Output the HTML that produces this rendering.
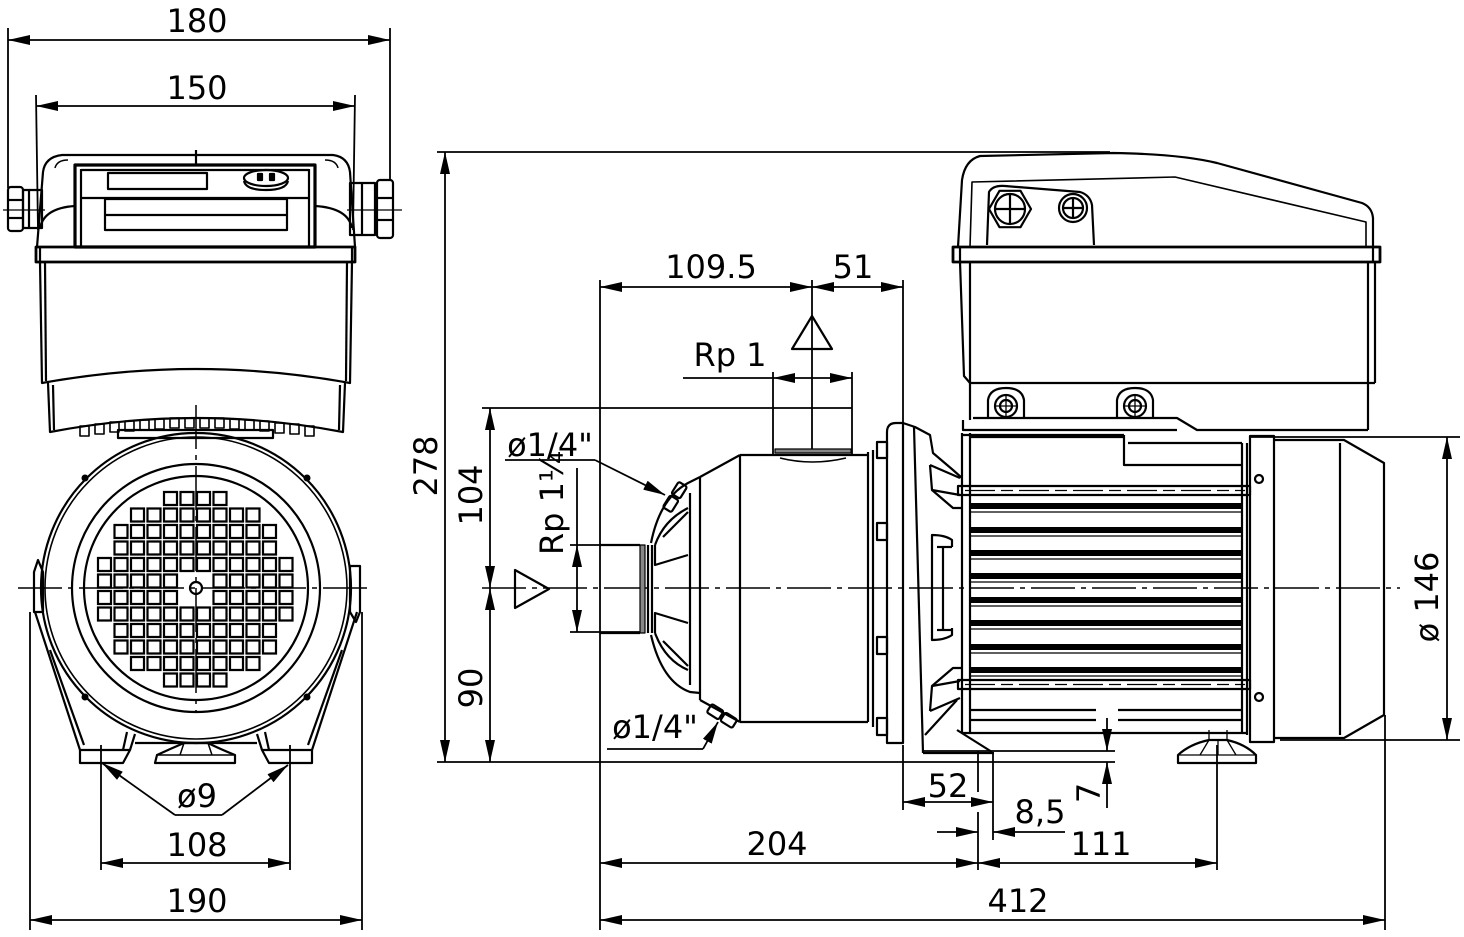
<!DOCTYPE html>
<html><head><meta charset="utf-8"><style>html,body{margin:0;padding:0;background:#fff}svg{display:block}</style></head><body>
<svg width="1464" height="937" viewBox="0 0 1464 937" xmlns="http://www.w3.org/2000/svg">
<defs>
<marker id="a" viewBox="0 0 22 10" refX="22" refY="5" markerWidth="22" markerHeight="10" orient="auto-start-reverse" markerUnits="userSpaceOnUse"><path d="M0,0L22,5L0,10z" fill="#000"/></marker>
</defs>
<rect width="1464" height="937" fill="#fff"/>

<!-- ================= DIMENSIONS ================= -->
<g fill="none" stroke="#000" stroke-width="1.8">
  <!-- 180 / 150 -->
  <line x1="8" y1="40" x2="390" y2="40" marker-start="url(#a)" marker-end="url(#a)"/>
  <line x1="8" y1="28" x2="8" y2="188"/>
  <line x1="390" y1="28" x2="390" y2="180"/>
  <line x1="36" y1="106" x2="355" y2="106" marker-start="url(#a)" marker-end="url(#a)"/>
  <line x1="36" y1="95" x2="38" y2="230"/>
  <line x1="355" y1="95" x2="353" y2="230"/>
  <!-- 108 / 190 / o9 -->
  <line x1="101" y1="745" x2="101" y2="870"/>
  <line x1="290" y1="745" x2="290" y2="870"/>
  <line x1="101" y1="863" x2="290" y2="863" marker-start="url(#a)" marker-end="url(#a)"/>
  <line x1="30" y1="612" x2="30" y2="930"/>
  <line x1="362" y1="612" x2="362" y2="930"/>
  <line x1="30" y1="920" x2="362" y2="920" marker-start="url(#a)" marker-end="url(#a)"/>
  <polyline points="175,815 102,763" marker-end="url(#a)"/>
  <line x1="175" y1="815" x2="222" y2="815"/>
  <polyline points="222,815 288,765" marker-end="url(#a)"/>

  <!-- 278 / 104 / 90 -->
  <line x1="437" y1="152" x2="1110" y2="152"/>
  <line x1="437" y1="762" x2="1115" y2="762"/>
  <line x1="445" y1="152" x2="445" y2="762" marker-start="url(#a)" marker-end="url(#a)"/>
  <line x1="482" y1="408" x2="852" y2="408"/>
  <line x1="490" y1="408" x2="490" y2="588" marker-start="url(#a)" marker-end="url(#a)"/>
  <line x1="490" y1="588" x2="490" y2="762" marker-start="url(#a)" marker-end="url(#a)"/>
  <!-- Rp 1 1/4 -->
  <line x1="570" y1="545" x2="640" y2="545"/>
  <line x1="570" y1="632" x2="640" y2="632"/>
  <line x1="577" y1="468" x2="577" y2="545"/>
  <line x1="577" y1="545" x2="577" y2="632" marker-start="url(#a)" marker-end="url(#a)"/>
  <!-- o1/4 leaders -->
  <line x1="505" y1="460" x2="595" y2="460"/>
  <polyline points="595,460 665,495" marker-end="url(#a)"/>
  <line x1="607" y1="749" x2="703" y2="749"/>
  <polyline points="703,749 718,722" marker-end="url(#a)"/>
  <!-- 109.5 / 51 -->
  <line x1="600" y1="280" x2="600" y2="930"/>
  <line x1="812" y1="280" x2="812" y2="450"/>
  <line x1="903" y1="280" x2="903" y2="423"/>
  <line x1="600" y1="287" x2="812" y2="287" marker-start="url(#a)" marker-end="url(#a)"/>
  <line x1="812" y1="287" x2="903" y2="287" marker-start="url(#a)" marker-end="url(#a)"/>
  <!-- Rp 1 -->
  <line x1="683" y1="378" x2="773" y2="378"/>
  <line x1="773" y1="378" x2="852" y2="378" marker-start="url(#a)" marker-end="url(#a)"/>
  <line x1="773" y1="372" x2="773" y2="455"/>
  <line x1="852" y1="372" x2="852" y2="455"/>
  <!-- o146 -->
  <line x1="1250" y1="437" x2="1460" y2="437"/>
  <line x1="1280" y1="740" x2="1460" y2="740"/>
  <line x1="1447" y1="437" x2="1447" y2="740" marker-start="url(#a)" marker-end="url(#a)"/>
  <!-- bottom dims -->
  <line x1="903" y1="745" x2="903" y2="810"/>
  <line x1="993" y1="752" x2="993" y2="840"/>
  <line x1="978" y1="751" x2="978" y2="792"/>
  <line x1="978" y1="812" x2="978" y2="870"/>
  <line x1="903" y1="802" x2="993" y2="802" marker-start="url(#a)" marker-end="url(#a)"/>
  <polyline points="937,832 978,832" marker-end="url(#a)"/>
  <polyline points="1065,832 993,832" marker-end="url(#a)"/>
  <line x1="600" y1="863" x2="978" y2="863" marker-start="url(#a)" marker-end="url(#a)"/>
  <line x1="978" y1="863" x2="1217" y2="863" marker-start="url(#a)" marker-end="url(#a)"/>
  <line x1="1217" y1="745" x2="1217" y2="870"/>
  <line x1="1385" y1="715" x2="1385" y2="930"/>
  <line x1="600" y1="920" x2="1385" y2="920" marker-start="url(#a)" marker-end="url(#a)"/>
  <!-- 7 -->
  <line x1="923" y1="751" x2="1115" y2="751"/>
  <polyline points="1107,718 1107,751" marker-end="url(#a)"/>
  <polyline points="1107,808 1107,762" marker-end="url(#a)"/>
</g>

<!-- centerlines -->
<g fill="none" stroke="#000" stroke-width="1.5" stroke-dasharray="44 6 5 6">
  <line x1="18" y1="588" x2="372" y2="588"/>
  <line x1="196" y1="405" x2="196" y2="712"/>
  <line x1="482" y1="588" x2="1400" y2="588"/>
</g>
<g fill="none" stroke="#000" stroke-width="1.3">
  <line x1="3" y1="210" x2="45" y2="210"/>
  <line x1="347" y1="210" x2="402" y2="210"/>
</g>

<!-- ================= FRONT VIEW (LEFT) ================= -->
<g fill="none" stroke="#000" stroke-width="2.2" stroke-linejoin="round">
  <!-- control box -->
  <path d="M37,247 L43,172 Q45,157 62,155 L333,155 Q348,157 350,172 L355,247"/>
  <line x1="196" y1="150" x2="196" y2="165"/>
  <path d="M55,168 Q57,160 68,160 M338,168 Q336,160 325,160" stroke-width="1.5"/>
  <rect x="75" y="165" width="240" height="82" stroke-width="3.2"/>
  <line x1="81" y1="169" x2="81" y2="247"/>
  <line x1="309" y1="169" x2="309" y2="247"/>
  <line x1="81" y1="170" x2="309" y2="170"/>
  <line x1="81" y1="198" x2="309" y2="198"/>
  <rect x="108" y="173" width="99" height="16"/>
  <ellipse cx="266" cy="178" rx="22" ry="8"/>
  <path d="M244,181 Q246,190 266,190 Q286,190 288,181"/>
  <rect x="258" y="174" width="4" height="6" fill="#000"/>
  <rect x="270" y="174" width="4" height="6" fill="#000"/>
  <rect x="105" y="199" width="182" height="31"/>
  <line x1="105" y1="215" x2="287" y2="215"/>
  <path d="M40,228 Q44,208 75,206"/>
  <path d="M352,228 Q348,208 315,206"/>
  <rect x="36" y="247" width="319" height="15" stroke-width="2.8"/>
  <line x1="40" y1="247" x2="40" y2="262"/>
  <line x1="352" y1="247" x2="352" y2="262"/>
  <path d="M40,262 L42,383 Q196,355 350,383 L352,262"/>
  <line x1="45" y1="262" x2="46" y2="381"/>
  <line x1="347" y1="262" x2="346" y2="381"/>
  <path d="M48,383 L50,432 Q196,404 343,432 L345,383"/>
  <line x1="53" y1="385" x2="54" y2="430"/>
  <line x1="340" y1="385" x2="339" y2="430"/>
  <!-- glands -->
  <rect x="23" y="190" width="19" height="38"/>
  <line x1="29" y1="190" x2="29" y2="228"/>
  <rect x="8" y="187" width="15" height="44" rx="3"/>
  <line x1="8" y1="200" x2="23" y2="200"/>
  <line x1="8" y1="218" x2="23" y2="218"/>
  <rect x="350" y="183" width="25" height="52"/>
  <line x1="362" y1="183" x2="362" y2="235"/>
  <rect x="377" y="180" width="16" height="58" rx="3"/>
  <line x1="377" y1="198" x2="393" y2="198"/>
  <line x1="377" y1="220" x2="393" y2="220"/>
  <!-- ribs -->
  <g stroke-width="1.6">
    <rect x="80" y="426" width="9" height="10"/><rect x="95" y="424" width="9" height="10"/>
    <rect x="110" y="422" width="9" height="10"/><rect x="125" y="421" width="9" height="10"/>
    <rect x="140" y="420" width="9" height="10"/><rect x="155" y="419" width="9" height="10"/>
    <rect x="170" y="418" width="9" height="10"/><rect x="185" y="418" width="9" height="10"/>
    <rect x="200" y="418" width="9" height="10"/><rect x="215" y="418" width="9" height="10"/>
    <rect x="230" y="419" width="9" height="10"/><rect x="245" y="420" width="9" height="10"/>
    <rect x="260" y="421" width="9" height="10"/><rect x="275" y="423" width="9" height="10"/>
    <rect x="290" y="424" width="9" height="10"/><rect x="305" y="426" width="9" height="10"/>
  </g>
  <rect x="118" y="430" width="155" height="8"/>

  <!-- motor front -->
  <circle cx="196" cy="588" r="155"/>
  <circle cx="196" cy="588" r="151" stroke-width="1.6"/>
  <circle cx="196" cy="588" r="124"/>
  <circle cx="196" cy="588" r="112"/>
  <circle cx="196" cy="588" r="6"/>
  <path d="M34,612 L34,572 L38,560 L43,572 L43,612 Z"/>
  <path d="M350,566 L360,566 L360,612 L356,622 L350,612 Z"/>
  <!-- legs -->
  <line x1="35" y1="612" x2="80" y2="750"/>
  <line x1="50" y1="650" x2="84" y2="745"/>
  <line x1="357" y1="612" x2="312" y2="750"/>
  <line x1="342" y1="650" x2="308" y2="745"/>
  <path d="M80,750 L80,763 L123,763 L130,750 Z"/>
  <path d="M127,732 L123,750 M135,734 L130,750"/>
  <path d="M312,750 L312,763 L269,763 L262,750 Z"/>
  <path d="M265,732 L269,750 M257,734 L262,750"/>
  <line x1="135" y1="743" x2="257" y2="743"/>
  <path d="M155,763 L235,763 L235,755 Q220,749 208,743 L184,743 Q170,749 157,755 Z"/>
  <path d="M157,755 L235,755 M184,743 L180,755 M208,743 L212,755" stroke-width="1.5"/>
</g>
<g fill="#000">
  <circle cx="85" cy="478" r="3.5"/><circle cx="307" cy="478" r="3.5"/>
  <circle cx="85" cy="697" r="3.5"/><circle cx="307" cy="697" r="3.5"/>
</g>
<path fill="none" stroke="#000" stroke-width="2.2" d="
M164 492h13v13h-13zm16.5 0h13v13h-13zm16.5 0h13v13h-13zm16.5 0h13v13h-13z
M131 508.5h13v13h-13zm16.5 0h13v13h-13zm16.5 0h13v13h-13zm16.5 0h13v13h-13zm16.5 0h13v13h-13zm16.5 0h13v13h-13zm16.5 0h13v13h-13zm16.5 0h13v13h-13z
M114.5 525h13v13h-13zm16.5 0h13v13h-13zm16.5 0h13v13h-13zm16.5 0h13v13h-13zm16.5 0h13v13h-13zm16.5 0h13v13h-13zm16.5 0h13v13h-13zm16.5 0h13v13h-13zm16.5 0h13v13h-13zm16.5 0h13v13h-13z
M114.5 541.5h13v13h-13zm16.5 0h13v13h-13zm16.5 0h13v13h-13zm16.5 0h13v13h-13zm16.5 0h13v13h-13zm16.5 0h13v13h-13zm16.5 0h13v13h-13zm16.5 0h13v13h-13zm16.5 0h13v13h-13zm16.5 0h13v13h-13z
M98 558h13v13h-13zm16.5 0h13v13h-13zm16.5 0h13v13h-13zm16.5 0h13v13h-13zm16.5 0h13v13h-13zm16.5 0h13v13h-13zm16.5 0h13v13h-13zm16.5 0h13v13h-13zm16.5 0h13v13h-13zm16.5 0h13v13h-13zm16.5 0h13v13h-13zm16.5 0h13v13h-13z
M98 574.5h13v13h-13zm16.5 0h13v13h-13zm16.5 0h13v13h-13zm16.5 0h13v13h-13zm16.5 0h13v13h-13z
M213.5 574.5h13v13h-13zm16.5 0h13v13h-13zm16.5 0h13v13h-13zm16.5 0h13v13h-13zm16.5 0h13v13h-13z
M98 591h13v13h-13zm16.5 0h13v13h-13zm16.5 0h13v13h-13zm16.5 0h13v13h-13zm16.5 0h13v13h-13z
M213.5 591h13v13h-13zm16.5 0h13v13h-13zm16.5 0h13v13h-13zm16.5 0h13v13h-13zm16.5 0h13v13h-13z
M98 607.5h13v13h-13zm16.5 0h13v13h-13zm16.5 0h13v13h-13zm16.5 0h13v13h-13zm16.5 0h13v13h-13zm16.5 0h13v13h-13zm16.5 0h13v13h-13zm16.5 0h13v13h-13zm16.5 0h13v13h-13zm16.5 0h13v13h-13zm16.5 0h13v13h-13zm16.5 0h13v13h-13z
M114.5 624h13v13h-13zm16.5 0h13v13h-13zm16.5 0h13v13h-13zm16.5 0h13v13h-13zm16.5 0h13v13h-13zm16.5 0h13v13h-13zm16.5 0h13v13h-13zm16.5 0h13v13h-13zm16.5 0h13v13h-13zm16.5 0h13v13h-13z
M114.5 640.5h13v13h-13zm16.5 0h13v13h-13zm16.5 0h13v13h-13zm16.5 0h13v13h-13zm16.5 0h13v13h-13zm16.5 0h13v13h-13zm16.5 0h13v13h-13zm16.5 0h13v13h-13zm16.5 0h13v13h-13zm16.5 0h13v13h-13z
M131 657h13v13h-13zm16.5 0h13v13h-13zm16.5 0h13v13h-13zm16.5 0h13v13h-13zm16.5 0h13v13h-13zm16.5 0h13v13h-13zm16.5 0h13v13h-13zm16.5 0h13v13h-13z
M164 673.5h13v13h-13zm16.5 0h13v13h-13zm16.5 0h13v13h-13zm16.5 0h13v13h-13z"/>

<!-- ================= SIDE VIEW (RIGHT) ================= -->
<g fill="none" stroke="#000" stroke-width="2.2" stroke-linejoin="round">
  <!-- triangles -->
  <polygon points="515,570 515,608 549,589"/>
  <polygon points="792,349 832,349 812,316"/>
  <!-- inlet pipe -->
  <line x1="600" y1="545" x2="640" y2="545"/>
  <line x1="600" y1="633" x2="640" y2="633"/>
  <rect x="640" y="545" width="5" height="88" fill="#888" stroke-width="1.2"/>
  <line x1="648" y1="545" x2="648" y2="633"/>
  <line x1="652" y1="545" x2="652" y2="633"/>
  <!-- bulb -->
  <path d="M651,543 Q660,498 688,483 L700,477"/>
  <path d="M651,635 Q662,682 690,692 L700,693"/>
  <path d="M655,545 Q664,520 688,508"/>
  <path d="M663,537 L688,512 M655,545 L655,565 L688,555"/>
  <path d="M663,641 L688,666 M655,633 L655,613 L688,623"/>
  <path d="M655,633 Q665,660 688,670"/>
  <line x1="690" y1="493" x2="690" y2="685"/>
  <line x1="700" y1="477" x2="700" y2="700"/>
  <line x1="700" y1="477" x2="740" y2="455"/>
  <line x1="700" y1="700" x2="740" y2="722"/>
  <line x1="740" y1="455" x2="740" y2="722"/>
  <line x1="740" y1="455" x2="868" y2="455"/>
  <line x1="740" y1="722" x2="868" y2="722"/>
  <rect x="775" y="449" width="76" height="4" fill="#888" stroke-width="1.2"/>
  <path d="M780,458 Q812,466 846,458" stroke-width="1.5"/>
  <line x1="868" y1="452" x2="868" y2="722"/>
  <line x1="873" y1="450" x2="873" y2="727"/>
  <!-- bolt lumps -->
  <g transform="translate(675,497) rotate(-58)"><rect x="-15" y="-5" width="14" height="10" rx="2"/><rect x="1" y="-5" width="14" height="10" rx="2"/></g>
  <g transform="translate(722,716) rotate(32)"><rect x="-15" y="-5" width="14" height="10" rx="2"/><rect x="1" y="-5" width="14" height="10" rx="2"/></g>
  <!-- flange -->
  <path d="M887,743 L887,432 Q887,423 896,423 L903,423 L903,743 Z"/>
  <rect x="877" y="442" width="10" height="16"/>
  <rect x="877" y="523" width="10" height="17"/>
  <rect x="877" y="637" width="10" height="17"/>
  <rect x="877" y="718" width="10" height="17"/>
  <!-- lantern -->
  <line x1="914" y1="427" x2="923" y2="753"/>
  <polyline points="903,423 915,427 930,435 933,453 953,470 962,478"/>
  <polyline points="930,465 960,478"/>
  <polyline points="930,465 932,490 960,495"/>
  <polyline points="932,490 953,508 962,508"/>
  <polyline points="930,711 960,698"/>
  <polyline points="930,711 932,686 960,681"/>
  <polyline points="932,686 953,668 962,668"/>
  <path d="M952,547 L952,540 Q945,535 932,535 L932,640 Q945,640 952,635 L952,628"/>
  <line x1="943" y1="547" x2="943" y2="630"/>
  <line x1="937" y1="547" x2="952" y2="547"/>
  <line x1="937" y1="630" x2="952" y2="630"/>
  <line x1="957" y1="700" x2="925" y2="735"/>
  <line x1="923" y1="753" x2="994" y2="753"/>
  <line x1="957" y1="730" x2="992" y2="752"/>
  <!-- stator -->
  <line x1="962" y1="433" x2="962" y2="733"/>
  <line x1="970" y1="433" x2="970" y2="733"/>
  <line x1="962" y1="435" x2="1124" y2="435"/>
  <line x1="962" y1="733" x2="1246" y2="733"/>
  <line x1="1242" y1="443" x2="1242" y2="733"/>
  <line x1="1247" y1="443" x2="1247" y2="735"/>
  <path d="M1124,435 L1124,465 L1242,465 M1128,443 L1242,443"/>
  <rect x="958" y="486" width="292" height="9"/>
  <rect x="958" y="680" width="292" height="9"/>
  <line x1="965" y1="490.5" x2="1245" y2="490.5" stroke-width="1.2" stroke-dasharray="30 6 12 6"/>
  <line x1="965" y1="684.5" x2="1245" y2="684.5" stroke-width="1.2" stroke-dasharray="30 6 12 6"/>
  <g stroke="none" fill="#000">
    <rect x="970" y="503" width="272" height="6"/>
    <rect x="970" y="527" width="272" height="6"/>
    <rect x="970" y="550" width="272" height="6"/>
    <rect x="970" y="573" width="272" height="6"/>
    <rect x="970" y="597" width="272" height="6"/>
    <rect x="970" y="620" width="272" height="6"/>
    <rect x="970" y="644" width="272" height="6"/>
    <rect x="970" y="667" width="272" height="6"/>
  </g>
  <g stroke-width="1.3">
    <line x1="970" y1="512" x2="1242" y2="512"/>
    <line x1="970" y1="536" x2="1242" y2="536"/>
    <line x1="970" y1="559" x2="1242" y2="559"/>
    <line x1="970" y1="582" x2="1242" y2="582"/>
    <line x1="970" y1="606" x2="1242" y2="606"/>
    <line x1="970" y1="629" x2="1242" y2="629"/>
    <line x1="970" y1="653" x2="1242" y2="653"/>
    <line x1="970" y1="676" x2="1242" y2="676"/>
  </g>
  <path d="M970,710 L1096,710 M1118,710 L1242,710 M970,720 L1096,720 M1118,720 L1242,720"/>
  <!-- rear foot -->
  <path d="M1178,763 L1256,763 L1256,755 Q1245,744 1227,740 L1209,740 Q1190,744 1178,755 Z"/>
  <path d="M1178,755 L1256,755 M1209,740 L1209,730 M1227,740 L1227,730 M1209,740 L1200,755 M1227,740 L1236,755 M1218,740 L1218,755" stroke-width="1.3"/>
  <!-- fan cowl -->
  <rect x="1250" y="436" width="24" height="306"/>
  <path d="M1274,440 L1344,440 L1384,463 L1384,715 L1344,738 L1274,738"/>
  <line x1="1340" y1="443" x2="1340" y2="735"/>
  <circle cx="1259" cy="479" r="4"/>
  <circle cx="1259" cy="697" r="4"/>

  <!-- control box side -->
  <path d="M958,247 L962,180 Q965,160 980,156 L1113,153 Q1180,154 1217,163 L1362,203 Q1372,207 1373,218 L1373,247"/>
  <path d="M970,247 L972,182 L1175,177 L1366,222 L1366,247" stroke-width="1.6"/>
  <path d="M987,245 L989,192 Q993,185 1005,186 L1080,192 Q1090,195 1092,205 L1094,245"/>
  <polygon points="1031,209 1020.5,227.2 999.5,227.2 989,209 999.5,190.8 1020.5,190.8"/>
  <circle cx="1010" cy="209" r="15"/>
  <path d="M995,209 L1025,209 M1010,194 L1010,224"/>
  <circle cx="1073" cy="208" r="14"/>
  <circle cx="1073" cy="208" r="10"/>
  <path d="M1063,208 L1083,208 M1073,198 L1073,218"/>
  <rect x="953" y="247" width="427" height="15" stroke-width="2.8"/>
  <line x1="960" y1="247" x2="960" y2="262"/>
  <line x1="1373" y1="247" x2="1373" y2="262"/>
  <path d="M960,262 L964,376 L970,383"/>
  <line x1="1375" y1="262" x2="1375" y2="383"/>
  <line x1="970" y1="262" x2="970" y2="420"/>
  <line x1="1368" y1="262" x2="1368" y2="430"/>
  <line x1="970" y1="383" x2="1375" y2="383"/>
  <path d="M973,418 L1177,418 L1197,430 L1368,430"/>
  <path d="M963,420 L963,430 L1177,430"/>
  <line x1="970" y1="437" x2="1124" y2="437"/>
  <path d="M988,418 L988,400 Q990,388 1006,388 Q1022,388 1024,400 L1024,418"/>
  <path d="M1117,418 L1117,400 Q1119,388 1135,388 Q1151,388 1153,400 L1153,418"/>
  <circle cx="1006" cy="406" r="11"/><circle cx="1006" cy="406" r="6"/>
  <path d="M996,406 L1016,406 M1006,396 L1006,416" stroke-width="1.3"/>
  <circle cx="1135" cy="406" r="11"/><circle cx="1135" cy="406" r="6"/>
  <path d="M1125,406 L1145,406 M1135,396 L1135,416" stroke-width="1.3"/>
</g>

<!-- ================= TEXT ================= -->
<g font-family="DejaVu Sans, Liberation Sans, sans-serif" font-size="32" fill="#000" text-anchor="middle">
  <text x="197" y="32">180</text>
  <text x="197" y="99">150</text>
  <text x="197" y="807">ø9</text>
  <text x="197" y="856">108</text>
  <text x="197" y="912">190</text>
  <text transform="translate(437,466) rotate(-90)">278</text>
  <text transform="translate(482,495) rotate(-90)">104</text>
  <text transform="translate(482,688) rotate(-90)">90</text>
  <text transform="translate(563,503) rotate(-90)">Rp 1¼</text>
  <text x="550" y="456">ø1/4"</text>
  <text x="655" y="738">ø1/4"</text>
  <text x="711" y="278">109.5</text>
  <text x="853" y="278">51</text>
  <text x="730" y="366">Rp 1</text>
  <text x="948" y="797">52</text>
  <text x="1040" y="823">8,5</text>
  <text transform="translate(1100,793) rotate(-90)">7</text>
  <text x="777" y="855">204</text>
  <text x="1101" y="855">111</text>
  <text x="1018" y="912">412</text>
  <text transform="translate(1438,597) rotate(-90)">ø 146</text>
</g>
</svg>
</body></html>
